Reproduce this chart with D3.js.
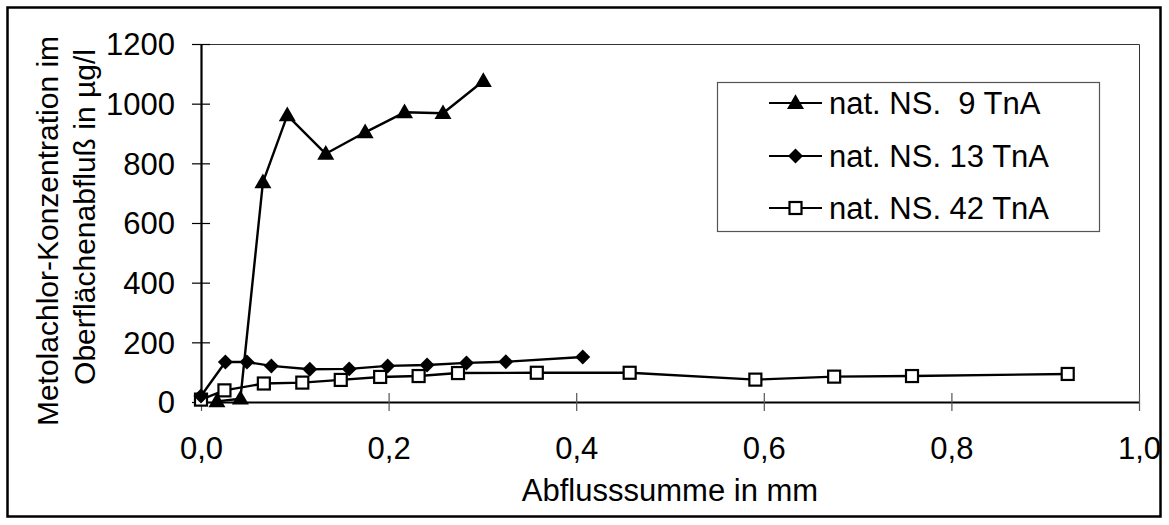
<!DOCTYPE html>
<html>
<head>
<meta charset="utf-8">
<script src="https://cdn.jsdelivr.net/npm/d3@7"></script>
<style>
  html, body { margin: 0; padding: 0; background: #fff; }
  svg { display: block; font-family: "Liberation Sans", Arial, sans-serif; }
</style>
</head>
<body>
<svg id="chart" width="1169" height="525"></svg>
<script>
// Metolachlor concentration in surface runoff vs. cumulative runoff
const seriesNames = ["nat. NS.  9 TnA", "nat. NS. 13 TnA", "nat. NS. 42 TnA"];

const x9  = [0.017, 0.042, 0.066, 0.092, 0.133, 0.175, 0.217, 0.258, 0.301];
const y9  = [2, 11, 736, 961, 832, 904, 971, 968, 1076];

const x13 = [0.0, 0.026, 0.049, 0.075, 0.116, 0.158, 0.199, 0.241, 0.283, 0.325, 0.407];
const y13 = [20, 134, 134, 121, 110, 111, 121, 124, 131, 135, 151];

const x42 = [0.0, 0.025, 0.067, 0.108, 0.149, 0.191, 0.232, 0.274, 0.358, 0.457, 0.591, 0.675, 0.758, 0.924];
const y42 = [8, 39, 62, 65, 74, 84, 87, 97, 98, 98, 75, 85, 87, 94];

const xTicks = [0, 0.2, 0.4, 0.6, 0.8, 1.0];
const xTickLabels = ["0,0", "0,2", "0,4", "0,6", "0,8", "1,0"];
const yTicks = [0, 200, 400, 600, 800, 1000, 1200];
const yTickLabels = ["0", "200", "400", "600", "800", "1000", "1200"];

const xTitle = "Abflusssumme in mm";
const yTitleLines = ["Metolachlor-Konzentration im", "Oberflächenabfluß in µg/l"];

const svg = d3.select("#chart");
const FS = 31;

const plot = { left: 201, right: 1139, top: 44, bottom: 402 };
const x = d3.scaleLinear().domain([0, 1]).range([plot.left, plot.right]);
const y = d3.scaleLinear().domain([0, 1200]).range([plot.bottom, plot.top]);

// outer frame
svg.append("rect")
  .attr("x", 7.5).attr("y", 7.5).attr("width", 1153).attr("height", 509)
  .attr("fill", "#fff").attr("stroke", "#000").attr("stroke-width", 2.5);

// plot frame top and right
svg.append("path")
  .attr("d", `M${plot.left},${plot.top + 0.5}H${plot.right + 0.5}V${plot.bottom}`)
  .attr("fill", "none").attr("stroke", "#333").attr("stroke-width", 1);

// x axis
const gx = svg.append("g")
  .attr("transform", `translate(0,${plot.bottom})`)
  .call(d3.axisBottom(x).tickValues(xTicks).tickFormat((d, i) => xTickLabels[i]).tickSizeOuter(0));
gx.select(".domain").attr("stroke", "#000").attr("stroke-width", 2.2);
gx.selectAll(".tick line").attr("y1", -9).attr("y2", 9).attr("stroke", "#555").attr("stroke-width", 1.2);
gx.selectAll(".tick text").attr("y", 57).attr("dy", 0)
  .attr("font-size", FS).attr("font-family", "Liberation Sans, Arial, sans-serif").attr("fill", "#000");

// y axis
const gy = svg.append("g")
  .attr("transform", `translate(${plot.left},0)`)
  .call(d3.axisLeft(y).tickValues(yTicks).tickFormat((d, i) => yTickLabels[i]).tickSizeOuter(0));
gy.select(".domain").attr("stroke", "#000").attr("stroke-width", 2.2);
gy.selectAll(".tick line").attr("x1", -9).attr("x2", 9).attr("stroke", "#000").attr("stroke-width", 1.2);
gy.selectAll(".tick text").attr("x", -26).attr("dy", "0.35em")
  .attr("font-size", FS).attr("font-family", "Liberation Sans, Arial, sans-serif").attr("fill", "#000");

// axis titles
svg.append("text")
  .attr("x", (plot.left + plot.right) / 2).attr("y", 501)
  .attr("text-anchor", "middle").attr("font-size", FS).text(xTitle);

const yTitlePos = [[58, 231], [95, 217]];
yTitleLines.forEach((t, i) => {
  svg.append("text")
    .attr("transform", `translate(${yTitlePos[i][0]},${yTitlePos[i][1]}) rotate(-90)`)
    .attr("text-anchor", "middle").attr("font-size", 30).text(t);
});

// marker shapes
const triSym = d3.symbol().type(d3.symbolTriangle).size(125);
const diaSym = d3.symbol().type(d3.symbolSquare).size(112);
function drawMarker(g, kind, cx, cy) {
  if (kind === "tri") {
    g.append("path").attr("d", triSym()).attr("transform", `translate(${cx},${cy + 1})`)
      .attr("fill", "#000");
  } else if (kind === "dia") {
    g.append("path").attr("d", diaSym()).attr("transform", `translate(${cx},${cy}) rotate(45)`)
      .attr("fill", "#000");
  } else {
    g.append("rect").attr("x", cx - 6).attr("y", cy - 6).attr("width", 12).attr("height", 12)
      .attr("fill", "#fff").attr("stroke", "#000").attr("stroke-width", 2.2);
  }
}

const series = [
  { xs: x9, ys: y9, kind: "tri" },
  { xs: x13, ys: y13, kind: "dia" },
  { xs: x42, ys: y42, kind: "sq" }
];

const line = d3.line().x(d => x(d[0])).y(d => y(d[1]));
const gData = svg.append("g");
// draw order: squares below, diamonds, triangles on top
[2, 1, 0].forEach(si => {
  const s = series[si];
  const pts = s.xs.map((v, i) => [v, s.ys[i]]);
  const g = gData.append("g");
  g.append("path").attr("d", line(pts)).attr("fill", "none")
    .attr("stroke", "#000").attr("stroke-width", 2.4).attr("stroke-linejoin", "round");
  pts.forEach(p => drawMarker(g, s.kind, x(p[0]), y(p[1])));
});

// legend
const lg = svg.append("g");
lg.append("rect").attr("x", 717.5).attr("y", 82.5).attr("width", 382).attr("height", 149)
  .attr("fill", "#fff").attr("stroke", "#555").attr("stroke-width", 1.2);
const legendY = [103, 156, 208];
series.forEach((s, i) => {
  const ly = legendY[i];
  lg.append("line").attr("x1", 769).attr("x2", 822).attr("y1", ly).attr("y2", ly)
    .attr("stroke", "#000").attr("stroke-width", 2.2);
  drawMarker(lg, s.kind, 795.5, ly);
  lg.append("text").attr("x", 829).attr("y", ly).attr("dy", "0.36em")
    .attr("font-size", FS).style("white-space", "pre").text(seriesNames[i]);
});
</script>
</body>
</html>
